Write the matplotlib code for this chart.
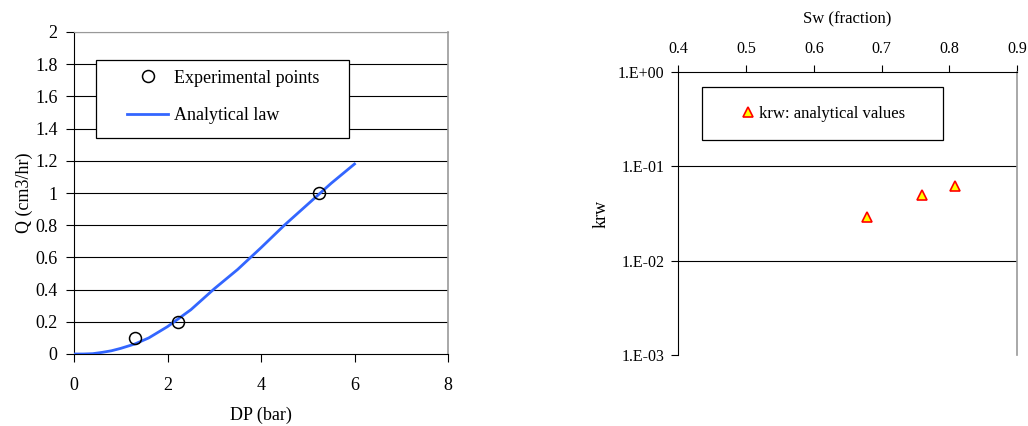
import matplotlib
matplotlib.use("Agg")
import matplotlib.pyplot as plt
from matplotlib.lines import Line2D
from matplotlib.patches import Rectangle

plt.rcParams['font.family'] = ['Liberation Serif', 'DejaVu Serif']

# Left chart data
exp_dp = [1.3, 2.22, 5.25]
exp_q = [0.1, 0.2, 1.0]
law_dp = [0.0, 0.2, 0.4, 0.6, 0.8, 1.0, 1.3, 1.6, 2.0, 2.5, 3.0, 3.5, 4.0, 4.5, 5.0, 5.5, 6.0]
law_q = [0.0, 0.0, 0.002, 0.01, 0.02, 0.035, 0.062, 0.1, 0.17, 0.275, 0.405, 0.525, 0.66, 0.8, 0.93, 1.06, 1.18]
left_xticks = [0, 2, 4, 6, 8]
left_yticks = [0, 0.2, 0.4, 0.6, 0.8, 1, 1.2, 1.4, 1.6, 1.8, 2]
left_yticklabels = ['0', '0.2', '0.4', '0.6', '0.8', '1', '1.2', '1.4', '1.6', '1.8', '2']

# Right chart data
sw = [0.679, 0.76, 0.809]
krw = [0.029, 0.05, 0.062]
right_xticks = [0.4, 0.5, 0.6, 0.7, 0.8, 0.9]
right_xticklabels = ['0.4', '0.5', '0.6', '0.7', '0.8', '0.9']
right_yticks = [1e-3, 1e-2, 1e-1, 1e0]
right_yticklabels = ['1.E-03', '1.E-02', '1.E-01', '1.E+00']

W, H = 1028, 426
lfs = 13      # left chart text
rfs = 12      # right chart text
rtfs = 11.5   # right chart tick labels

def fx(x):
    return x / W

def fy(y):
    return 1 - y / H

fig = plt.figure(figsize=(W / 100, H / 100), dpi=100)

# ---- Left axes
ax1 = fig.add_axes([fx(74), fy(354), (448 - 74) / W, (354 - 32) / H])
ax1.plot(law_dp, law_q, color='#3366ff', lw=2, zorder=3)
ax1.plot(exp_dp, exp_q, ls='none', marker='o', ms=8.6, mfc='none', mec='black', mew=1.1, zorder=4)
ax1.set_xlim(0, 8)
ax1.set_ylim(0, 2)
ax1.set_xticks(left_xticks)
ax1.set_yticks(left_yticks)
ax1.set_yticklabels(left_yticklabels)
ax1.tick_params(direction='out', length=6, width=0.8, labelsize=lfs, colors='black')
ax1.tick_params(axis='x', pad=10.5)
ax1.tick_params(axis='y', pad=5.8)
for y in left_yticks[1:]:
    ax1.axhline(y, color='black', lw=0.8, zorder=1)
ax1.spines['top'].set_color('#999999')
ax1.spines['right'].set_color('#999999')
ax1.spines['right'].set_linewidth(1.2)
ax1.set_xlabel('DP (bar)', fontsize=lfs, labelpad=9)
ax1.set_ylabel('Q (cm3/hr)', fontsize=lfs, labelpad=1.5)

box1 = Rectangle((fx(96), fy(138)), (349 - 96) / W, (138 - 60) / H, transform=fig.transFigure,
                 facecolor='white', edgecolor='black', lw=0.9, zorder=5)
ax1.add_patch(box1)
h1 = [Line2D([], [], ls='none', marker='o', ms=8.6, mfc='none', mec='black', mew=1.1),
      Line2D([], [], color='#3366ff', lw=2)]
leg1 = ax1.legend(h1, ['Experimental points', 'Analytical law'], fontsize=lfs,
                  loc='center', bbox_to_anchor=(fx(223), fy(97)), bbox_transform=fig.transFigure,
                  frameon=False, borderpad=0, labelspacing=1.15,
                  handlelength=2.3, handletextpad=0.3, borderaxespad=0)
leg1.set_zorder(6)

# ---- Right axes
ax2 = fig.add_axes([fx(678.3), fy(355.3), (1017 - 678.3) / W, (355.3 - 71.7) / H])
ax2.set_yscale('log')
ax2.plot(sw, krw, ls='none', marker='^', ms=6.5, mfc='#ffff00', mec='#ff0000', mew=1.2, zorder=4)
ax2.set_xlim(0.4, 0.9)
ax2.set_ylim(1e-3, 1e0)
ax2.set_xticks(right_xticks)
ax2.set_xticklabels(right_xticklabels)
ax2.set_yticks(right_yticks)
ax2.set_yticklabels(right_yticklabels)
ax2.yaxis.set_minor_locator(matplotlib.ticker.NullLocator())
ax2.xaxis.tick_top()
ax2.xaxis.set_label_position('top')
ax2.tick_params(direction='out', length=5, width=0.8, labelsize=rtfs, colors='black')
ax2.tick_params(axis='x', pad=5.5)
ax2.tick_params(axis='y', pad=5)
for y in [1e-2, 1e-1]:
    ax2.axhline(y, color='black', lw=0.8, zorder=1)
ax2.spines['bottom'].set_visible(False)
ax2.spines['right'].set_color('#999999')
ax2.spines['right'].set_linewidth(1.2)
ax2.set_xlabel('Sw (fraction)', fontsize=rfs, labelpad=13)
ax2.set_ylabel('krw', fontsize=rfs + 1, labelpad=6)

box2 = Rectangle((fx(702), fy(140)), (943 - 702) / W, (140 - 87) / H, transform=fig.transFigure,
                 facecolor='white', edgecolor='black', lw=0.9, zorder=5)
ax2.add_patch(box2)
h2 = [Line2D([], [], ls='none', marker='^', ms=6.5, mfc='#ffff00', mec='#ff0000', mew=1.2)]
leg2 = ax2.legend(h2, ['krw: analytical values'], fontsize=rfs,
                  loc='center', bbox_to_anchor=(fx(823), fy(114)), bbox_transform=fig.transFigure,
                  frameon=False, borderpad=0,
                  handlelength=0.9, handletextpad=0.2, borderaxespad=0)
leg2.set_zorder(6)

fig.savefig('out.png', dpi=100)
